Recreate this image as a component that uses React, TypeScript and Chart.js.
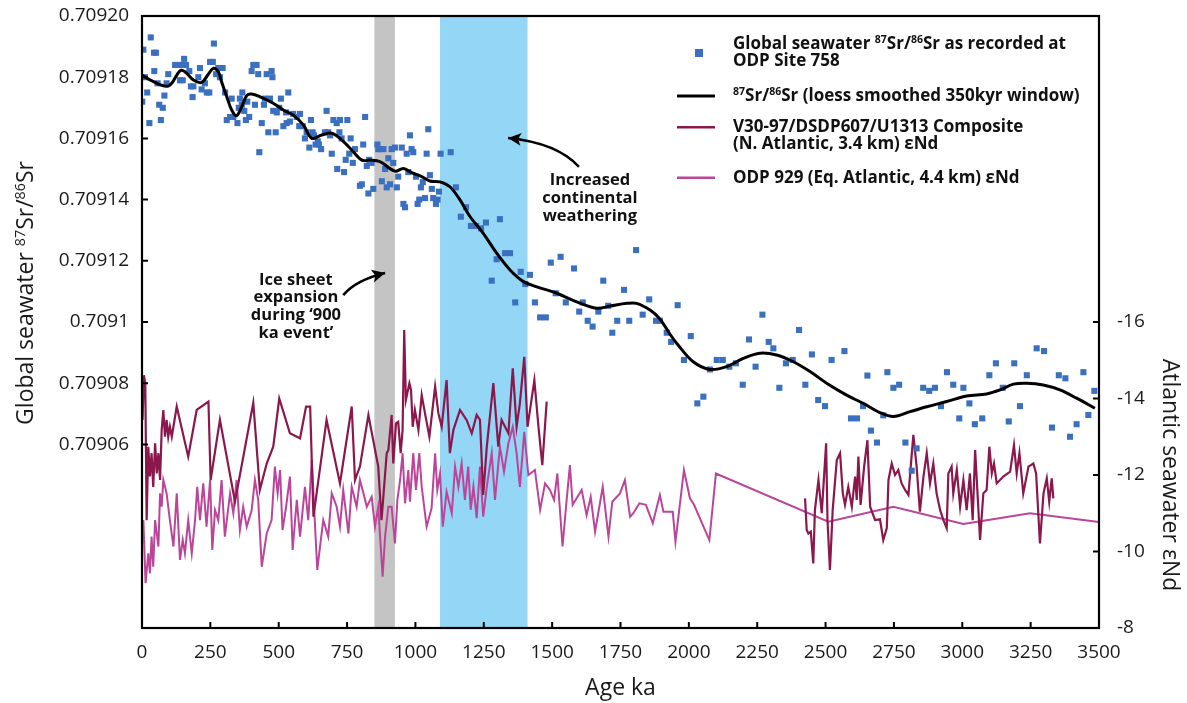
import React, { useEffect, useRef } from 'react';
import { Chart, registerables } from 'chart.js';

Chart.register(...registerables);

const FONT = '"Open Sans", "DejaVu Sans", sans-serif';

// ---------- data ----------
// Global seawater 87Sr/86Sr, ODP Site 758 (age ka, ratio)
const srAge = [
  5, 32, 44, 51, 45, 11, 19, 1, 27, 63, 76, 69, 57, 82, 96, 90, 121, 133, 145, 161, 154, 139, 149, 173, 179, 188,
  185, 206, 212, 218, 230, 237, 246, 249, 259, 263, 271, 279, 295, 285, 304, 328, 358, 365, 354, 367, 385, 374,
  392, 380, 310, 322, 334, 349, 401, 407, 419, 425, 413, 438, 429, 450, 468, 456, 474, 477, 446, 462, 489, 480,
  493, 502, 508, 535, 527, 517, 529, 541, 553, 566, 578, 575, 588, 596, 602, 618, 612, 624, 629, 635, 647, 655,
  643, 669, 681, 675, 688, 700, 712, 724, 694, 722, 730, 751, 763, 779, 758, 745, 714, 739, 771, 809, 816, 831,
  840, 822, 797, 804, 846, 828, 861, 864, 870, 883, 889, 877, 895, 907, 901, 919, 913, 925, 932, 937, 950, 956,
  962, 968, 974, 980, 986, 992, 1002, 1008, 1014, 1020, 1027, 1035, 1041, 1047, 1053, 1060, 1065, 1075, 1081,
  1086, 1092, 1129, 1148, 1166, 1185, 1203, 1222, 1240, 1258, 1309, 1297, 1328, 1346, 1279, 1365, 1385, 1402,
  1419, 1437, 1456, 1477, 1495, 1513, 1531, 1550, 1580, 1599, 1612, 1630, 1648, 1669, 1687, 1705, 1720, 1738,
  1763, 1782, 1807, 1831, 1855, 1880, 1894, 1919, 1935, 1959, 1982, 2007, 2031, 2053, 2077, 2102, 2124, 2148,
  2172, 2197, 2220, 2244, 2269, 2292, 2309, 2331, 2355, 2380, 2403, 2426, 2450, 2473, 2498, 2522, 2569, 2593,
  2615, 2637, 2653, 2666, 2688, 2711, 2726, 2748, 2769, 2792, 2815, 2833, 2857, 2879, 2900, 2922, 2944, 2967,
  2989, 3004, 3026, 3046, 3073, 3099, 3123, 3148, 3170, 3190, 3211, 3236, 3272, 3299, 3328, 3353, 3377, 3394,
  3418, 3443, 3461, 3483,
];
const srValue = [
  0.709189, 0.709193, 0.709188, 0.709188, 0.709182, 0.70918, 0.709175, 0.709172, 0.709165, 0.709171, 0.70917,
  0.709166, 0.709178, 0.709174, 0.709181, 0.709178, 0.709184, 0.709184, 0.709184, 0.709184, 0.709186, 0.709179,
  0.709179, 0.709182, 0.709177, 0.709177, 0.7091735, 0.70918, 0.709183, 0.709176, 0.709178, 0.709175, 0.709175,
  0.709185, 0.709185, 0.709191, 0.709181, 0.709183, 0.709183, 0.70918, 0.709175, 0.709173, 0.709173, 0.709171,
  0.70917, 0.709175, 0.709172, 0.709169, 0.709167, 0.709166, 0.709166, 0.709167, 0.709167, 0.709165, 0.709182,
  0.709184, 0.709184, 0.709181, 0.709171, 0.709165, 0.7091555, 0.709173, 0.709173, 0.709181, 0.709182, 0.70918,
  0.709171, 0.709162, 0.709162, 0.709169, 0.7091685, 0.70917, 0.709173, 0.709175, 0.7091685, 0.709164, 0.709165,
  0.7091655, 0.709168, 0.709167, 0.709168, 0.709164, 0.709164, 0.70916, 0.709162, 0.709166, 0.709157, 0.709162,
  0.709161, 0.709158, 0.709158, 0.7091565, 0.709159, 0.709162, 0.709162, 0.709169, 0.709161, 0.709166, 0.709165,
  0.709166, 0.709155, 0.709162, 0.70916, 0.709166, 0.70916, 0.7091565, 0.709155, 0.709153, 0.70915, 0.709149,
  0.709152, 0.709158, 0.709167, 0.709153, 0.709152, 0.709151, 0.7091445, 0.709145, 0.7091435, 0.709142, 0.709158,
  0.7091565, 0.7091565, 0.7091565, 0.70915, 0.709146, 0.709144, 0.709145, 0.7091535, 0.709152, 0.7091565,
  0.709157, 0.709144, 0.7091475, 0.709157, 0.7091386, 0.7091375, 0.709155, 0.709149, 0.709161, 0.7091565,
  0.7091555, 0.7091475, 0.7091386, 0.70914, 0.709144, 0.7091457, 0.7091405, 0.709155, 0.709163, 0.709148,
  0.7091435, 0.7091405, 0.7091386, 0.70914, 0.7091426, 0.709155, 0.7091555, 0.709144, 0.7091344, 0.7091375,
  0.7091314, 0.7091314, 0.7091306, 0.7091325, 0.7091336, 0.7091205, 0.7091225, 0.7091225, 0.7091135, 0.7091064,
  0.7091164, 0.7091124, 0.7091154, 0.7091064, 0.7091015, 0.7091015, 0.7091194, 0.7091094, 0.7091213, 0.7091064,
  0.7091175, 0.7091034, 0.7091064, 0.7091004, 0.7090985, 0.7091034, 0.7091135, 0.7091053, 0.7090965, 0.7091004,
  0.7091105, 0.7091004, 0.7091235, 0.7091024, 0.7091074, 0.7091004, 0.7091004, 0.7090965, 0.7090935, 0.7091055,
  0.7090876, 0.7090954, 0.7090734, 0.7090756, 0.7090845, 0.7090876, 0.7090876, 0.7090854, 0.7090865, 0.7090795,
  0.7090943, 0.7090854, 0.7091024, 0.7090935, 0.7090914, 0.7090785, 0.7090865, 0.7090876, 0.7090974, 0.7090795,
  0.7090894, 0.7090745, 0.7090725, 0.7090876, 0.7090905, 0.7090685, 0.7090685, 0.7090725, 0.7090825, 0.7090645,
  0.7090606, 0.7090695, 0.7090836, 0.7090785, 0.7090795, 0.7090606, 0.7090514, 0.7090587, 0.7090785, 0.7090775,
  0.7090785, 0.7090725, 0.7090836, 0.7090795, 0.7090685, 0.7090785, 0.7090734, 0.7090666, 0.7090685, 0.7090826,
  0.7090865, 0.7090785, 0.7090675, 0.7090865, 0.7090725, 0.7090826, 0.7090914, 0.7090905, 0.7090655, 0.7090826,
  0.7090816, 0.7090625, 0.7090666, 0.7090836, 0.7090696, 0.7090775,
];

// 87Sr/86Sr loess smoothed (350 kyr window)
const smoothAge = [
  0, 29, 96, 139, 157, 188, 218, 242, 261, 279, 291, 310, 328, 346, 365, 383, 401, 432, 480, 517, 553, 590, 621,
  657, 694, 724, 761, 804, 834, 870, 925, 956, 986, 1023, 1053, 1090, 1126, 1163, 1200, 1248, 1297, 1346, 1395,
  1444, 1517, 1590, 1663, 1712, 1773, 1809, 1858, 1894, 1931, 1956, 2016, 2077, 2138, 2199, 2260, 2321, 2382,
  2443, 2504, 2577, 2638, 2699, 2748, 2809, 2870, 2943, 3016, 3089, 3138, 3187, 3236, 3296, 3357, 3418, 3485,
];
const smoothValue = [
  0.7091807, 0.7091791, 0.7091771, 0.7091821, 0.7091818, 0.7091791, 0.7091783, 0.7091809, 0.7091829, 0.7091818,
  0.7091785, 0.7091736, 0.7091693, 0.7091674, 0.7091704, 0.709174, 0.7091745, 0.7091736, 0.7091715, 0.7091693,
  0.7091676, 0.7091644, 0.70916, 0.7091611, 0.7091617, 0.70916, 0.7091568, 0.7091529, 0.7091529, 0.7091524,
  0.7091493, 0.7091502, 0.7091488, 0.7091475, 0.7091461, 0.7091458, 0.7091442, 0.7091399, 0.7091344, 0.709129,
  0.7091225, 0.709117, 0.7091132, 0.7091115, 0.7091094, 0.7091066, 0.7091045, 0.7091052, 0.7091061, 0.7091061,
  0.7091039, 0.709101, 0.709096, 0.709093, 0.709087, 0.7090845, 0.7090854, 0.7090881, 0.7090898, 0.7090892,
  0.709087, 0.7090838, 0.70908, 0.7090761, 0.7090734, 0.7090704, 0.7090691, 0.7090707, 0.7090723, 0.709074,
  0.7090758, 0.7090765, 0.7090778, 0.7090797, 0.70908, 0.7090794, 0.7090778, 0.7090751, 0.7090718,
];

// V30-97/DSDP607/U1313 composite eNd, younger part (0-1480 ka)
const v30YoungAge = [
  2, 7, 12, 17, 23, 29, 35, 41, 48, 54, 60, 66, 72, 78, 84, 90, 96, 102, 109, 127, 169, 200, 243, 251, 285, 340,
  407, 431, 456, 480, 502, 541, 578, 600, 615, 627, 675, 724, 767, 779, 797, 828, 864, 876, 895, 901, 913, 919,
  929, 937, 946, 953, 959, 965, 978, 984, 990, 998, 1011, 1023, 1035, 1051, 1072, 1084, 1096, 1114, 1126, 1139,
  1163, 1187, 1206, 1224, 1236, 1248, 1261, 1285, 1303, 1315, 1340, 1356, 1370, 1382, 1398, 1410, 1435, 1450,
  1464, 1480,
];
const v30YoungNd = [
  -13.44, -14.61, -14.4, -10.82, -12.74, -11.96, -12.57, -11.69, -12.83, -12.04, -12.57, -11.87, -13.18, -13.7,
  -13.0, -13.44, -13.0, -13.26, -13.0, -13.79, -12.48, -13.7, -13.92, -11.87, -13.44, -11.3, -13.89, -11.61, -12.3,
  -12.74, -14.0, -13.09, -12.96, -13.79, -13.79, -10.91, -13.44, -11.78, -13.79, -11.87, -12.22, -13.57, -12.22,
  -10.82, -12.57, -12.65, -13.57, -12.3, -13.35, -13.39, -12.57, -13.18, -15.79, -13.96, -14.4, -14.22, -13.26,
  -13.7, -13.18, -14.09, -13.61, -13.0, -14.31, -13.61, -13.26, -14.48, -12.57, -13.18, -13.7, -13.44, -13.09,
  -13.57, -13.44, -11.48, -12.74, -14.4, -12.74, -13.44, -13.09, -14.79, -13.26, -13.87, -15.09, -13.26, -14.48,
  -13.26, -12.26, -13.92,
];
// V30-97/DSDP607/U1313 composite eNd, older part (2425-3333 ka)
const v30OldAge = [
  2425, 2431, 2437, 2446, 2455, 2461, 2474, 2486, 2502, 2507, 2516, 2526, 2541, 2553, 2563, 2571, 2583, 2596, 2608,
  2614, 2620, 2628, 2641, 2653, 2663, 2681, 2699, 2711, 2724, 2730, 2742, 2754, 2766, 2778, 2791, 2803, 2821, 2833,
  2845, 2858, 2870, 2882, 2894, 2906, 2919, 2931, 2943, 2949, 2961, 2967, 2980, 2992, 3004, 3016, 3028, 3038, 3047,
  3065, 3077, 3089, 3099, 3108, 3116, 3126, 3150, 3175, 3189, 3199, 3209, 3223, 3242, 3260, 3270, 3284, 3297, 3309,
  3318, 3327, 3333,
];
const v30OldNd = [
  -11.39, -10.56, -10.47, -10.52, -9.69, -11.08, -11.87, -11.0, -12.83, -10.82, -9.52, -11.08, -12.39, -12.57,
  -11.52, -11.22, -11.69, -11.17, -11.96, -11.35, -12.48, -11.22, -12.22, -12.91, -11.17, -10.82, -10.84, -10.3,
  -10.61, -11.87, -12.3, -12.0, -12.13, -11.78, -11.61, -11.48, -13.05, -12.22, -11.04, -11.96, -12.57, -11.78,
  -12.3, -11.52, -11.08, -10.82, -10.61, -12.04, -12.22, -11.52, -12.13, -11.17, -11.87, -11.08, -12.04, -10.82,
  -12.65, -10.3, -11.52, -11.61, -12.74, -12.04, -12.3, -11.78, -11.96, -12.09, -12.78, -12.04, -12.57, -11.52,
  -12.22, -12.3, -12.04, -10.21, -11.52, -11.91, -11.3, -11.91, -11.39,
];

// ODP 929 eNd
const odpAge = [
  5, 13, 23, 29, 35, 41, 48, 60, 66, 72, 78, 90, 102, 115, 127, 139, 149, 157, 169, 182, 194, 202, 212, 224, 236,
  249, 257, 267, 279, 291, 303, 322, 334, 346, 358, 370, 383, 401, 413, 425, 438, 456, 474, 486, 496, 505, 514,
  527, 541, 551, 566, 578, 596, 608, 621, 633, 641, 651, 663, 681, 694, 712, 724, 736, 755, 767, 785, 797, 810,
  822, 840, 852, 864, 880, 889, 901, 913, 925, 934, 944, 953, 962, 974, 980, 992, 1002, 1014, 1023, 1041, 1059,
  1072, 1080, 1090, 1100, 1114, 1133, 1145, 1157, 1169, 1181, 1193, 1202, 1212, 1224, 1236, 1248, 1261, 1279,
  1291, 1309, 1324, 1340, 1356, 1370, 1382, 1398, 1413, 1437, 1456, 1474, 1492, 1507, 1519, 1538, 1553, 1565,
  1575, 1608, 1626, 1641, 1657, 1685, 1706, 1720, 1748, 1766, 1785, 1797, 1819, 1843, 1868, 1894, 1907, 1941,
  1951, 1982, 2004, 2019, 2075, 2099, 2510, 2748, 3004, 3248, 3500,
];
const odpNd = [
  -10.82, -9.17, -9.95, -9.43, -10.39, -9.6, -10.82, -10.13, -11.52, -11.17, -11.87, -11.52, -10.82, -10.13,
  -11.52, -9.78, -10.3, -9.95, -10.82, -9.95, -10.82, -11.69, -10.82, -11.78, -10.65, -11.87, -10.04, -11.08,
  -10.82, -11.87, -10.39, -11.52, -11.0, -11.87, -10.56, -11.17, -10.65, -11.08, -11.87, -11.35, -9.6, -10.47,
  -10.82, -12.22, -11.52, -12.13, -10.56, -11.17, -11.96, -10.04, -11.35, -10.39, -11.69, -10.82, -12.39, -10.65,
  -9.52, -10.13, -10.82, -10.39, -11.52, -11.17, -10.65, -11.61, -10.47, -11.69, -11.17, -11.87, -11.52, -11.17,
  -11.43, -10.65, -11.17, -9.34, -10.39, -11.17, -11.17, -10.21, -11.35, -11.87, -12.57, -11.26, -12.13, -11.3,
  -12.57, -11.61, -12.57, -11.69, -10.65, -11.13, -12.57, -11.61, -12.04, -10.65, -11.56, -11.0, -12.22, -11.69,
  -12.3, -11.35, -12.22, -11.09, -11.69, -10.87, -12.22, -10.91, -11.69, -12.57, -11.35, -12.74, -12.09, -12.83,
  -13.26, -12.57, -11.69, -13.13, -12.0, -12.13, -11.09, -11.78, -11.61, -11.35, -12.04, -10.13, -11.35, -12.26,
  -11.22, -11.61, -10.95, -11.43, -10.52, -11.69, -10.39, -11.3, -11.52, -11.87, -10.91, -11.0, -11.26, -11.22,
  -10.74, -11.48, -11.04, -11.04, -10.26, -12.13, -11.39, -11.22, -10.3, -12.04, -10.78, -11.17, -10.72, -11.0,
  -10.77,
];

// axes
const xTicks = [0, 250, 500, 750, 1000, 1250, 1500, 1750, 2000, 2250, 2500, 2750, 3000, 3250, 3500];
const xTickLabels = ['0', '250', '500', '750', '1000', '1250', '1500', '1750', '2000', '2250', '2500', '2750', '3000', '3250', '3500'];
const srTicks = [0.70906, 0.70908, 0.7091, 0.70912, 0.70914, 0.70916, 0.70918, 0.7092];
const srTickLabels = ['0.70906', '0.70908', '0.7091', '0.70912', '0.70914', '0.70916', '0.70918', '0.70920'];
const ndTicks = [-16, -14, -12, -10, -8];
const ndTickLabels = ['-16', '-14', '-12', '-10', '-8'];

// shaded intervals (ka)
const iceBand = [850, 925];
const weatheringBand = [1090, 1410];

// ---------- style ----------
const BLUE_PT = '#3b6fc0';
const DARK = '#8b184d';
const MAGENTA = '#bb4599';
const GRAY = '#c4c4c4';
const SKY = '#94d6f6';
const TEXT = '#1a1a1a';

type Seg = { t: string; sup?: boolean };

function richWidth(ctx: CanvasRenderingContext2D, segs: Seg[], size: number, weight: string) {
  let w = 0;
  for (const s of segs) {
    ctx.font = `${weight} ${s.sup ? size * 0.62 : size}px ${FONT}`;
    w += ctx.measureText(s.t).width;
  }
  return w;
}

function drawRich(
  ctx: CanvasRenderingContext2D,
  segs: Seg[],
  x: number,
  y: number,
  size: number,
  weight: string,
  align: 'left' | 'center',
) {
  ctx.textAlign = 'left';
  ctx.textBaseline = 'alphabetic';
  let cx = align === 'center' ? x - richWidth(ctx, segs, size, weight) / 2 : x;
  for (const s of segs) {
    const fs = s.sup ? size * 0.62 : size;
    ctx.font = `${weight} ${fs}px ${FONT}`;
    ctx.fillText(s.t, cx, s.sup ? y - size * 0.36 : y);
    cx += ctx.measureText(s.t).width;
  }
}

function arrow(ctx: CanvasRenderingContext2D, p0: number[], c: number[], p2: number[]) {
  ctx.beginPath();
  ctx.moveTo(p0[0], p0[1]);
  ctx.quadraticCurveTo(c[0], c[1], p2[0], p2[1]);
  ctx.lineWidth = 2.5;
  ctx.strokeStyle = '#000';
  ctx.stroke();
  const ang = Math.atan2(p2[1] - c[1], p2[0] - c[0]);
  const L = 13;
  const W = 6.5;
  const bx = p2[0] - L * Math.cos(ang);
  const by = p2[1] - L * Math.sin(ang);
  ctx.beginPath();
  ctx.moveTo(p2[0], p2[1]);
  ctx.lineTo(bx + W * Math.sin(ang), by - W * Math.cos(ang));
  ctx.lineTo(bx + 3 * Math.cos(ang), by + 3 * Math.sin(ang));
  ctx.lineTo(bx - W * Math.sin(ang), by + W * Math.cos(ang));
  ctx.closePath();
  ctx.fillStyle = '#000';
  ctx.fill();
}

const SR_SEGS: Seg[] = [{ t: '87', sup: true }, { t: 'Sr/' }, { t: '86', sup: true }, { t: 'Sr' }];
const LEG = 17;

const decorPlugin = {
  id: 'decor',
  beforeDatasetsDraw(chart: any) {
    const { ctx, chartArea: a, scales } = chart;
    const x = scales.x;
    ctx.save();
    const band = (b: number[], color: string) => {
      const x0 = x.getPixelForValue(b[0]);
      const x1 = x.getPixelForValue(b[1]);
      ctx.fillStyle = color;
      ctx.fillRect(x0, a.top, x1 - x0, a.bottom - a.top);
    };
    band(iceBand, GRAY);
    band(weatheringBand, SKY);
    ctx.restore();
  },
  afterDatasetsDraw(chart: any) {
    const { ctx, chartArea: a, scales } = chart;
    const { x, y, y2 } = scales;
    ctx.save();

    // frame
    ctx.strokeStyle = '#000';
    ctx.lineWidth = 2.2;
    ctx.strokeRect(a.left, a.top, a.right - a.left, a.bottom - a.top);

    // inward tick marks
    ctx.lineWidth = 2;
    ctx.beginPath();
    for (const v of xTicks) {
      const px = x.getPixelForValue(v);
      ctx.moveTo(px, a.bottom);
      ctx.lineTo(px, a.bottom - 6);
    }
    for (const v of srTicks) {
      const py = y.getPixelForValue(v);
      ctx.moveTo(a.left, py);
      ctx.lineTo(a.left + 6, py);
    }
    for (const v of ndTicks) {
      const py = y2.getPixelForValue(v);
      ctx.moveTo(a.right, py);
      ctx.lineTo(a.right - 6, py);
    }
    ctx.stroke();

    // annotations
    ctx.fillStyle = '#111';
    ctx.font = `bold 16.5px ${FONT}`;
    ctx.textAlign = 'center';
    ctx.textBaseline = 'middle';
    const iceX = x.getPixelForValue(563);
    const iceY = y.getPixelForValue(0.7091137);
    ['Ice sheet', 'expansion', 'during \u2018900', 'ka event\u2019'].forEach((t, i) =>
      ctx.fillText(t, iceX, iceY + i * 17.7),
    );
    const wX = x.getPixelForValue(1638);
    const wY = y.getPixelForValue(0.7091464);
    ['Increased', 'continental', 'weathering'].forEach((t, i) => ctx.fillText(t, wX, wY + i * 18));

    const P = (age: number, v: number) => [x.getPixelForValue(age), y.getPixelForValue(v)];
    arrow(ctx, P(736, 0.7091088), P(783, 0.7091137), P(889, 0.709116));
    arrow(ctx, P(1598, 0.7091507), P(1518, 0.7091585), P(1339, 0.7091601));

    // legend
    const ds = chart.data.datasets;
    const lx0 = a.right - 422;
    const lx1 = a.right - 384;
    const tx = a.right - 366;
    const t0 = a.top;
    ctx.fillStyle = ds[1].backgroundColor;
    ctx.fillRect(a.right - 404, t0 + 33, 8, 8);
    const line = (yy: number, color: string, w: number) => {
      ctx.beginPath();
      ctx.moveTo(lx0, yy);
      ctx.lineTo(lx1, yy);
      ctx.strokeStyle = color;
      ctx.lineWidth = w;
      ctx.stroke();
    };
    line(t0 + 80, ds[0].borderColor, 3);
    line(t0 + 111.3, ds[2].borderColor, 2.5);
    line(t0 + 161.7, ds[3].borderColor, 2.5);
    ctx.fillStyle = '#111';
    drawRich(ctx, [{ t: 'Global seawater ' }, ...SR_SEGS, { t: ' as recorded at' }], tx, t0 + 33, LEG, 'bold', 'left');
    drawRich(ctx, [{ t: 'ODP Site 758' }], tx, t0 + 50, LEG, 'bold', 'left');
    drawRich(ctx, [...SR_SEGS, { t: ' (loess smoothed 350kyr window)' }], tx, t0 + 85, LEG, 'bold', 'left');
    drawRich(ctx, [{ t: 'V30-97/DSDP607/U1313 Composite' }], tx, t0 + 116, LEG, 'bold', 'left');
    drawRich(ctx, [{ t: '(N. Atlantic, 3.4 km) \u03b5Nd' }], tx, t0 + 133, LEG, 'bold', 'left');
    drawRich(ctx, [{ t: 'ODP 929 (Eq. Atlantic, 4.4 km) \u03b5Nd' }], tx, t0 + 166.5, LEG, 'bold', 'left');

    // y axis titles
    ctx.fillStyle = TEXT;
    ctx.save();
    ctx.translate(33, 293);
    ctx.rotate(-Math.PI / 2);
    drawRich(ctx, [{ t: 'Global seawater ' }, ...SR_SEGS], 0, 0, 23, 'normal', 'center');
    ctx.restore();
    ctx.save();
    ctx.translate(1163, y2.getPixelForValue(-12));
    ctx.rotate(Math.PI / 2);
    drawRich(ctx, [{ t: 'Atlantic seawater \u03b5Nd' }], 0, 0, 23, 'normal', 'center');
    ctx.restore();

    ctx.restore();
  },
};

export default function App() {
  const ref = useRef<HTMLCanvasElement | null>(null);

  useEffect(() => {
    if (!ref.current) return;
    const tickFont = { family: FONT, size: 19 };
    const noPadV = (s: any, w: number) => {
      s.width = w;
      s.paddingTop = 0;
      s.paddingBottom = 0;
    };
    const chart = new Chart(ref.current, {
      type: 'scatter',
      data: {
        datasets: [
          {
            label: '87Sr/86Sr (loess smoothed 350kyr window)',
            data: smoothAge.map((a, i) => ({ x: a, y: smoothValue[i] })),
            showLine: true,
            borderColor: '#000',
            borderWidth: 3,
            pointRadius: 0,
            tension: 0.35,
            yAxisID: 'y',
          } as any,
          {
            label: 'Global seawater 87Sr/86Sr as recorded at ODP Site 758',
            data: srAge.map((a, i) => ({ x: a, y: srValue[i] })),
            backgroundColor: BLUE_PT,
            borderWidth: 0,
            pointStyle: 'rect',
            pointRadius: 4.3,
            yAxisID: 'y',
          },
          {
            label: 'V30-97/DSDP607/U1313 Composite (N. Atlantic, 3.4 km) \u03b5Nd',
            data: [
              ...v30YoungAge.map((a, i) => ({ x: a, y: v30YoungNd[i] })),
              { x: 1950, y: null },
              ...v30OldAge.map((a, i) => ({ x: a, y: v30OldNd[i] })),
            ],
            showLine: true,
            spanGaps: false,
            borderColor: DARK,
            borderWidth: 2.2,
            pointRadius: 0,
            tension: 0,
            yAxisID: 'y2',
          } as any,
          {
            label: 'ODP 929 (Eq. Atlantic, 4.4 km) \u03b5Nd',
            data: odpAge.map((a, i) => ({ x: a, y: odpNd[i] })),
            showLine: true,
            borderColor: MAGENTA,
            borderWidth: 2,
            pointRadius: 0,
            tension: 0,
            yAxisID: 'y2',
          } as any,
        ],
      },
      options: {
        responsive: false,
        animation: false,
        devicePixelRatio: 1,
        layout: { padding: { top: 16, left: 0, right: 0, bottom: 0 } },
        plugins: { legend: { display: false }, tooltip: { enabled: false } },
        scales: {
          x: {
            type: 'linear',
            min: 0,
            max: 3500,
            afterBuildTicks: (s: any) => {
              s.ticks = xTicks.map((v) => ({ value: v }));
            },
            afterFit: (s: any) => {
              s.height = 75;
              s.paddingLeft = 0;
              s.paddingRight = 0;
            },
            grid: { display: false, drawTicks: false },
            border: { display: false },
            ticks: {
              font: tickFont,
              color: TEXT,
              padding: 13,
              maxRotation: 0,
              autoSkip: false,
              callback: (v: any) => {
                const i = xTicks.indexOf(v);
                return i >= 0 ? xTickLabels[i] : null;
              },
            },
            title: {
              display: true,
              text: 'Age ka',
              font: { family: FONT, size: 23 },
              color: TEXT,
              padding: { top: 0, bottom: 1 },
            },
          },
          y: {
            type: 'linear',
            position: 'left',
            min: 0.709,
            max: 0.7092,
            afterBuildTicks: (s: any) => {
              s.ticks = srTicks.map((v) => ({ value: v }));
            },
            afterFit: (s: any) => noPadV(s, 142),
            grid: { display: false, drawTicks: false },
            border: { display: false },
            ticks: {
              font: tickFont,
              color: TEXT,
              padding: 13,
              autoSkip: false,
              callback: (v: any) => {
                const i = srTicks.findIndex((t) => Math.abs(t - v) < 1e-9);
                return i >= 0 ? srTickLabels[i] : null;
              },
            },
          },
          y2: {
            type: 'linear',
            position: 'right',
            min: -24,
            max: -8,
            reverse: true,
            afterBuildTicks: (s: any) => {
              s.ticks = ndTicks.map((v) => ({ value: v }));
            },
            afterFit: (s: any) => noPadV(s, 88),
            grid: { display: false, drawTicks: false },
            border: { display: false },
            ticks: {
              font: tickFont,
              color: TEXT,
              padding: 18,
              autoSkip: false,
              callback: (v: any) => {
                const i = ndTicks.indexOf(v);
                return i >= 0 ? ndTickLabels[i] : null;
              },
            },
          },
        },
      } as any,
      plugins: [decorPlugin],
    });
    return () => chart.destroy();
  }, []);

  return (
    <div style={{ position: 'absolute', left: 0, top: 0, width: 1187, height: 703, background: '#fff' }}>
      <canvas ref={ref} width={1187} height={703} />
    </div>
  );
}
